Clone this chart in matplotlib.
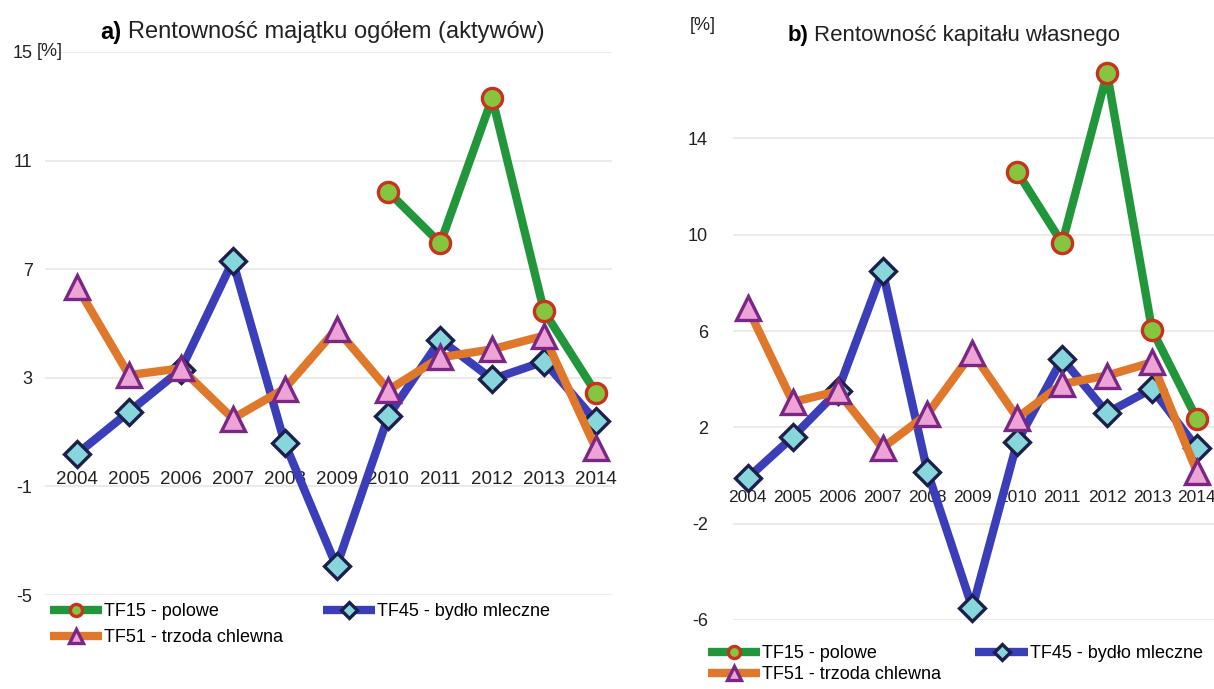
import matplotlib
matplotlib.use("Agg")
import matplotlib.pyplot as plt

plt.rcParams['font.family'] = ['Liberation Sans', 'DejaVu Sans']

years = ['2004', '2005', '2006', '2007', '2008', '2009', '2010', '2011', '2012', '2013', '2014']

# Panel a) return on assets [%]
a_tf15 = [None, None, None, None, None, None, 9.85, 7.95, 13.3, 5.45, 2.45]
a_tf45 = [0.2, 1.75, 3.3, 7.3, 0.6, -3.95, 1.6, 4.4, 2.95, 3.6, 1.4]
a_tf51 = [6.35, 3.1, 3.35, 1.5, 2.6, 4.8, 2.55, 3.75, 4.05, 4.55, 0.4]

# Panel b) return on equity [%]
b_tf15 = [None, None, None, None, None, None, 12.6, 9.65, 16.7, 6.05, 2.35]
b_tf45 = [-0.1, 1.6, 3.5, 8.5, 0.15, -5.5, 1.4, 4.85, 2.6, 3.6, 1.15]
b_tf51 = [6.95, 3.05, 3.5, 1.15, 2.55, 5.1, 2.4, 3.8, 4.15, 4.7, 0.15]

names = ['TF15 - polowe', 'TF45 - bydło mleczne', 'TF51 - trzoda chlewna']

a_ticks = [-5, -1, 3, 7, 11, 15]
b_ticks = [-6, -2, 2, 6, 10, 14]

styles = {
    'TF15': dict(color='#22963a', marker='o', mfc='#86c540', mec='#c8321e', mew=2.4, ms=14.5, z=4),
    'TF45': dict(color='#3a3eb8', marker='D', mfc='#86d6dc', mec='#1b1f4a', mew=2.4, ms=13, z=2),
    'TF51': dict(color='#e0782c', marker='^', mfc='#eea3d6', mec='#7a2684', mew=2.4, ms=17.5, z=3),
}

W, H = 1214, 689
fig = plt.figure(figsize=(W / 100, H / 100), dpi=100)


def draw(ax, s15, s45, s51, ylim, xlim, ticks, xsize, xpad, ypad):
    x = list(range(len(years)))
    ax.spines['bottom'].set_position(('data', 0))
    for sp in ax.spines.values():
        sp.set_visible(False)
    handles = {}
    for key, data in (('TF45', s45), ('TF51', s51), ('TF15', s15)):
        st = styles[key]
        xs = [xi for xi, v in zip(x, data) if v is not None]
        ys = [v for v in data if v is not None]
        ln, = ax.plot(xs, ys, color=st['color'], lw=6, marker=st['marker'], ms=st['ms'],
                      mfc=st['mfc'], mec=st['mec'], mew=st['mew'], zorder=st['z'],
                      clip_on=False, solid_joinstyle='round', solid_capstyle='butt')
        handles[key] = ln
    ax.set_ylim(*ylim)
    ax.set_xlim(*xlim)
    ax.set_yticks(ticks)
    ax.set_yticklabels([str(t) for t in ticks], fontsize=13, color='#222222')
    ax.yaxis.grid(True, color='#ebebeb', lw=1.5)
    ax.set_axisbelow(True)
    ax.set_xticks(x)
    ax.set_xticklabels(years, fontsize=xsize, color='#222222')
    ax.tick_params(axis='both', length=0)
    ax.tick_params(axis='x', pad=xpad)
    ax.tick_params(axis='y', pad=ypad)
    return handles


def fx(px):
    return px / W


def fy(py):
    return 1 - py / H


# Panel a
ax1 = fig.add_axes([fx(45), fy(595), fx(612 - 45), (595 - 52) / H])
h1 = draw(ax1, a_tf15, a_tf45, a_tf51, (-5, 15), (-0.62, 10.31), a_ticks, 13.5, 8.5, 9)
fig.text(fx(37), fy(52), '[%]', fontsize=13, va='center', ha='left', color='#222222')
fig.text(fx(100), fy(32), 'a)', fontsize=17, fontweight='bold', va='center', ha='left')
fig.text(fx(128), fy(32), 'Rentowność majątku ogółem (aktywów)', fontsize=17,
         va='center', ha='left', color='#222222')
ax1.legend([h1['TF15'], h1['TF51'], h1['TF45']], [names[0], names[2], names[1]],
           ncol=2, loc='upper left', bbox_to_anchor=(fx(50), fy(603)),
           bbox_transform=fig.transFigure, frameon=False,
           fontsize=13, handlelength=2.9, handletextpad=0.1, columnspacing=2.2,
           labelspacing=0.5, borderaxespad=0, borderpad=0, markerscale=0.6)

# Panel b
ax2 = fig.add_axes([fx(733), fy(620), fx(W - 733), (620 - 42) / H])
h2 = draw(ax2, b_tf15, b_tf45, b_tf51, (-6, 18), (-0.33, 10.38), b_ticks, 12.5, 10.5, 18)
fig.text(fx(690), fy(25), '[%]', fontsize=13, va='center', ha='left', color='#222222')
fig.text(fx(788), fy(35), 'b)', fontsize=16, fontweight='bold', va='center', ha='left')
fig.text(fx(814), fy(35), 'Rentowność kapitału własnego', fontsize=16,
         va='center', ha='left', color='#222222')
ax2.legend([h2['TF15'], h2['TF51'], h2['TF45']], [names[0], names[2], names[1]],
           ncol=2, loc='upper left', bbox_to_anchor=(fx(708), fy(645)),
           bbox_transform=fig.transFigure, frameon=False,
           fontsize=13, handlelength=2.9, handletextpad=0.1, columnspacing=1.9,
           labelspacing=0.22, borderaxespad=0, borderpad=0, markerscale=0.6)

fig.savefig('out.png', dpi=100)
